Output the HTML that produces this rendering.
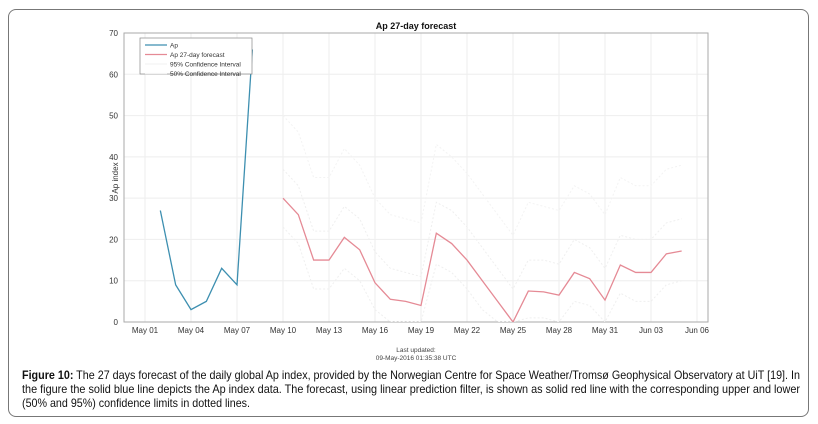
<!DOCTYPE html>
<html><head><meta charset="utf-8"><style>
body{margin:0;background:#fff;width:818px;height:424px;overflow:hidden;position:relative;font-family:"Liberation Sans",sans-serif}
#frame{position:absolute;left:8px;top:9px;width:801px;height:408px;border:1px solid #777;border-radius:8px;box-sizing:border-box}
svg{position:absolute;left:0;top:0}
</style></head><body>
<div id="frame"></div>
<svg id="chart" width="818" height="424"></svg>
<svg width="818" height="424" style="pointer-events:none">
<text x="22" y="379" font-size="11.6" fill="#111" textLength="778" lengthAdjust="spacingAndGlyphs"><tspan font-weight="bold">Figure 10:</tspan> The 27 days forecast of the daily global Ap index, provided by the Norwegian Centre for Space Weather/Tromsø Geophysical Observatory at UiT [19]. In</text>
<text x="22" y="393" font-size="11.6" fill="#111" textLength="778" lengthAdjust="spacingAndGlyphs">the figure the solid blue line depicts the Ap index data. The forecast, using linear prediction filter, is shown as solid red line with the corresponding upper and lower</text>
<text x="22" y="407" font-size="11.6" fill="#111" textLength="228" lengthAdjust="spacingAndGlyphs">(50% and 95%) confidence limits in dotted lines.</text>
</svg>
<script>
const apDays=[2,3,4,5,6,7,8];
const apValues=[27,9,3,5,13,9,66];
const fcDays=[10,11,12,13,14,15,16,17,18,19,20,21,22,23,24,25,26,27,28,29,30,31,32,33,34,35,36];
const fcValues=[30,26,15,15,20.5,17.5,9.5,5.5,5,4,21.5,19,15,10,5,0,7.5,7.3,6.5,12,10.5,5.3,13.8,12,12,16.5,17.2];
const ci50Upper=[37,33,22,22,28,25,17,13,12,11,29,27,23,18,13,8,15,15,14,20,18,13,21,20,20,24,25];
const ci50Lower=[23,19,8,8,13,10,3,0,0,0,14,12,8,3,0,0,1,1,0,5,4,0,7,5,5,9,10];
const ci95Upper=[50,46,35,35,42,38,30,26,25,24,43,40,36,31,26,21,29,28,27,33,31,26,35,33,33,37,38];
const yTicks=[0,10,20,30,40,50,60,70];
const xTickDays=[1,4,7,10,13,16,19,22,25,28,31,34,37];
const xTickLabels=["May 01","May 04","May 07","May 10","May 13","May 16","May 19","May 22","May 25","May 28","May 31","Jun 03","Jun 06"];
const L=124,R=708,T=33,B=322;
const X=d=>145+(d-1)*(46/3);
const Y=v=>B-(v/70)*(B-T);
const svg=document.getElementById('chart');const NS='http://www.w3.org/2000/svg';
function mk(t,a,p){const e=document.createElementNS(NS,t);for(const k in a)e.setAttribute(k,a[k]);(p||svg).appendChild(e);return e;}
const cp=mk('clipPath',{id:'pc'});mk('rect',{x:L,y:T,width:R-L,height:B-T},cp);
yTicks.forEach(v=>{const g=mk('line',{x1:L,x2:R,y1:Y(v),y2:Y(v),stroke:'#eee'});


const t=mk('text',{x:L-6,y:Y(v)+3,'text-anchor':'end','font-size':'8','fill':'#333'});t.textContent=v;

});
xTickDays.forEach((d,i)=>{const g=mk('line',{x1:X(d),x2:X(d),y1:T,y2:B,stroke:'#eee'});


const t=mk('text',{x:X(d),y:B+11,'text-anchor':'middle','font-size':'8','fill':'#333'});t.textContent=xTickLabels[i];

});
const ax=mk('rect',{x:L,y:T,width:R-L,height:B-T,fill:'none',stroke:'#aaa'});


function line(days,vals,col,w,dash,name){const p=mk('polyline',{points:days.map((d,i)=>X(d)+','+Y(vals[i])).join(' '),fill:'none',stroke:col,'stroke-width':w,'clip-path':'url(#pc)'});if(dash)p.setAttribute('stroke-dasharray',dash);

}
line(fcDays,ci95Upper,'#f3f3f3',1,'2,2','ci95-upper');
line(fcDays,ci50Upper,'#efefef',1,'2,2','ci50-upper');
line(fcDays,ci50Lower,'#efefef',1,'2,2','ci50-lower');
line(apDays,apValues,'#3d8fb0',1.3,null,'ap-line');
line(fcDays,fcValues,'#e58a95',1.3,null,'forecast-line');
const lg=mk('rect',{x:140,y:38,width:112,height:36,fill:'#fff',stroke:'#888','stroke-width':0.7});


[['Ap','#3d8fb0'],['Ap 27-day forecast','#e58a95'],['95% Confidence Interval','#f3f3f3'],['50% Confidence Interval','#f3f3f3']].forEach((e,i)=>{
const yy=45+i*9.5;mk('line',{x1:145,x2:167,y1:yy,y2:yy,stroke:e[1],'stroke-width':1.2});
const t=mk('text',{x:170,y:yy+2.5,'font-size':'6.5','fill':'#333'});t.textContent=e[0];

});
const ti=mk('text',{x:416,y:29,'text-anchor':'middle','font-size':'9','font-weight':'bold','fill':'#111'});ti.textContent='Ap 27-day forecast';


const yl=mk('text',{x:0,y:0,'text-anchor':'middle','font-size':'8','fill':'#333',transform:'translate(118,178) rotate(-90)'});yl.textContent='Ap index';


const u1=mk('text',{x:416,y:352,'text-anchor':'middle','font-size':'6.5','fill':'#444'});u1.textContent='Last updated:';


const u2=mk('text',{x:416,y:360,'text-anchor':'middle','font-size':'6.5','fill':'#444'});u2.textContent='09-May-2016 01:35:38 UTC';


</script>
</body></html>
